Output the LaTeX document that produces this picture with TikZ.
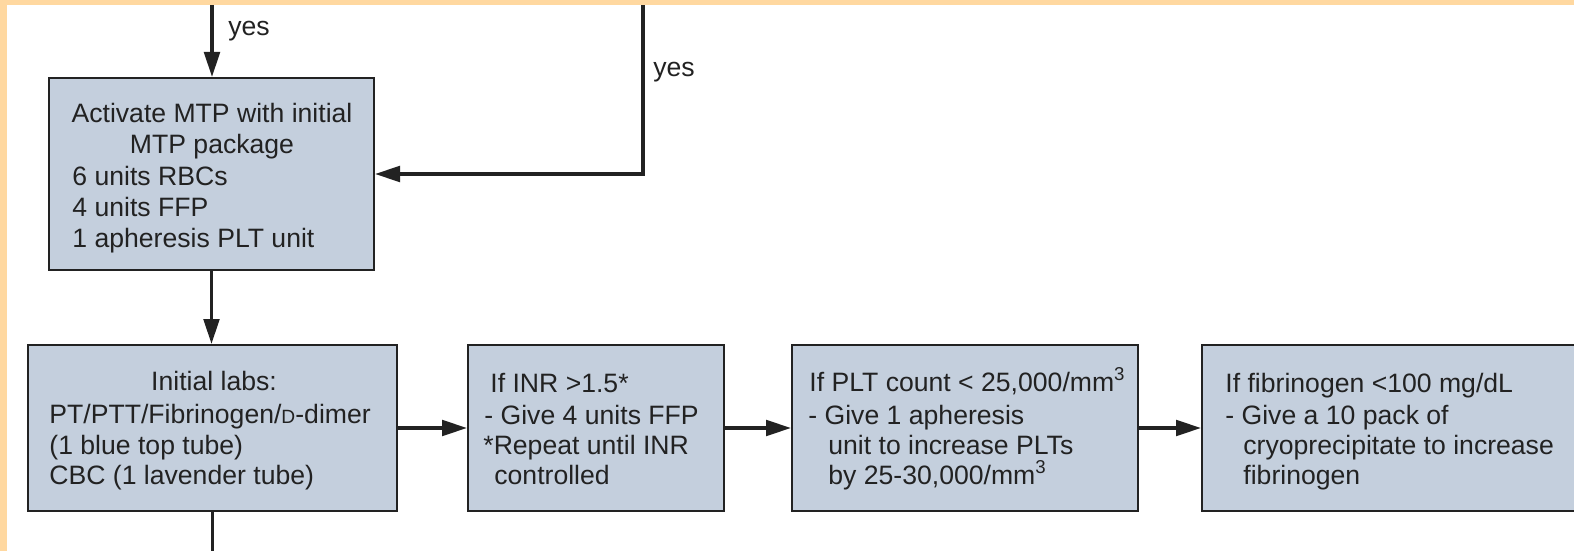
\documentclass[tikz,border=0pt]{standalone}
\usepackage{fontspec}
\setmainfont{Liberation Sans}
\usetikzlibrary{arrows.meta}
\definecolor{peach}{RGB}{255,216,160}
\definecolor{boxfill}{RGB}{196,207,221}
\definecolor{ink}{RGB}{34,34,34}
\begin{document}
\begin{tikzpicture}[x=0.5pt,y=-0.5pt,
  box/.style={draw=ink, line width=1pt, fill=boxfill, rectangle, inner sep=0pt},
  txt/.style={inner sep=0pt, anchor=base west, text=ink, font=\fontsize{13.3}{15}\selectfont},
  ctxt/.style={txt, anchor=base},
  arr/.style={draw=ink, line width=1.7pt, -{Triangle[length=12.5pt,width=7.8pt]}},
  ln/.style={draw=ink, line width=1.7pt}]
\useasboundingbox (0,0) rectangle (1574,551);
\clip (0,0) rectangle (1574,551);
\fill[white] (0,0) rectangle (1574,551);
% boxes
\node[box, minimum width=162.5pt, minimum height=96pt] (b1) at (211.5,174) {};
\node[box, minimum width=184.5pt, minimum height=83pt] (b2) at (212.5,428) {};
\node[box, minimum width=128pt, minimum height=83pt] (b3) at (596,428) {};
\node[box, minimum width=173pt, minimum height=83pt] (b4) at (965,428) {};
\node[box, minimum width=199pt, minimum height=83pt] (b5) at (1401,428) {};
% free ends
\coordinate (top1) at (212,0);
\coordinate (top2) at (643,0);
\coordinate (bot) at (212,560);
% connectors
\draw[arr] (top1) -- (top1 |- b1.north);
\draw[arr] (top2) |- (b1.east);
\draw[arr] (b1.south) -- (b1.south |- b2.north);
\draw[ln] (b2.south) -- (b2.south |- bot);
\draw[arr] (b2) -- (b3);
\draw[arr] (b3) -- (b4);
\draw[arr] (b4) -- (b5);
% labels
\node[txt] (yes1) at (228,36) {yes};
\node[txt] (yes2) at (653,77) {yes};
% box 1 text
\node[ctxt] (b1a) at (212,123) {Activate MTP with initial};
\node[ctxt] (b1b) at (212,154) {MTP package};
\node[txt] (b1c) at (72,185) {6 units RBCs};
\node[txt] (b1d) at (72,216) {4 units FFP};
\node[txt] (b1e) at (72,247) {1 apheresis PLT unit};
% box 2 text
\node[ctxt] (b2a) at (214,390) {Initial labs:};
\node[txt] (b2b) at (49,423) {PT/PTT/Fibrinogen/{\fontsize{9.6}{11}\selectfont D}-dimer};
\node[txt] (b2c) at (49,454) {(1 blue top tube)};
\node[txt] (b2d) at (49,484) {CBC (1 lavender tube)};
% box 3 text
\node[txt] (b3a) at (490,392) {If INR >1.5*};
\node[txt] (b3b) at (484,424) {- Give 4 units FFP};
\node[txt] (b3c) at (483,454) {*Repeat until INR};
\node[txt] (b3d) at (494,484) {controlled};
% box 4 text
\node[txt] (b4a) at (809,391) {If PLT count < 25,000/mm\textsuperscript{3}};
\node[txt] (b4b) at (808,424) {- Give 1 apheresis};
\node[txt] (b4c) at (828,454) {unit to increase PLTs};
\node[txt] (b4d) at (828,484) {by 25-30,000/mm\textsuperscript{3}};
% box 5 text
\node[txt] (b5a) at (1225,392) {If fibrinogen <100 mg/dL};
\node[txt] (b5b) at (1225,424) {- Give a 10 pack of};
\node[txt] (b5c) at (1243,454) {cryoprecipitate to increase};
\node[txt] (b5d) at (1243,484) {fibrinogen};
% peach frame strips
\fill[peach] (0,0) rectangle (1574,5);
\fill[peach] (0,0) rectangle (7,551);
\end{tikzpicture}
\end{document}
